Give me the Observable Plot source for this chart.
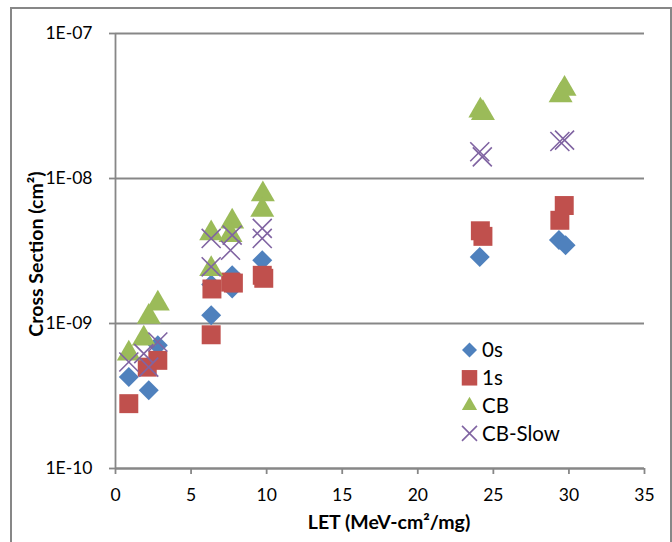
<!DOCTYPE html>
<html>
<head>
<meta charset="utf-8">
<script src="https://cdn.jsdelivr.net/npm/d3@7"></script>
<script src="https://cdn.jsdelivr.net/npm/@observablehq/plot@0.6"></script>
<style>
  html, body { margin: 0; padding: 0; background: #fff; }
  #wrap { position: relative; width: 672px; height: 542px; overflow: hidden; font-family: Lato, "Open Sans", sans-serif; }
  #frame { position: absolute; left: 10px; top: 7px; width: 662px; height: 600px; border: 2px solid #878787; box-sizing: border-box; pointer-events: none; }
  #chart { position: absolute; left: 0; top: 0; }
  .ttl { position: absolute; font-weight: bold; font-size: 19.5px; color: #000; white-space: nowrap; }
  #ytitle { left: 35px; top: 254px; transform: translate(-50%, -50%) rotate(-90deg); }
  #xtitle { left: 389px; top: 521px; transform: translate(-50%, -50%); }
  #legend { position: absolute; left: 455px; top: 334px; }
</style>
</head>
<body>
<div id="wrap">
  <div id="chart"></div>
  <div id="frame"></div>
  <div class="ttl" id="ytitle">Cross Section (cm²)</div>
  <div class="ttl" id="xtitle">LET (MeV-cm²/mg)</div>
  <div id="legend"></div>
</div>
<script>
// ---- data ----
const seriesNames = ["0s", "1s", "CB", "CB-Slow"];
const seriesColors = ["#4F81BD", "#C0504D", "#9BBB59", "#8064A2"];

const let0s = [0.88, 2.2, 2.8, 6.33, 6.33, 7.72, 7.72, 9.71, 24.1, 29.34, 29.78];
const cs0s  = [4.27e-10, 3.46e-10, 7.08e-10, 1.14e-9, 1.86e-9, 2.15e-9, 1.74e-9, 2.73e-9, 2.88e-9, 3.76e-9, 3.47e-9];

const let1s = [0.88, 2.1, 2.8, 6.38, 6.33, 7.62, 7.8, 9.71, 9.81, 24.14, 24.31, 29.4, 29.69];
const cs1s  = [2.8e-10, 5.0e-10, 5.57e-10, 1.73e-9, 8.36e-10, 1.93e-9, 1.9e-9, 2.15e-9, 2.05e-9, 4.36e-9, 3.99e-9, 5.15e-9, 6.51e-9];

const letCB = [0.88, 1.87, 2.2, 2.8, 6.33, 6.33, 7.72, 7.61, 9.75, 9.71, 24.14, 24.31, 29.45, 29.71];
const csCB  = [6.2e-10, 7.87e-10, 1.11e-9, 1.37e-9, 4.18e-9, 2.37e-9, 5.04e-9, 4.07e-9, 7.79e-9, 6.07e-9, 2.94e-8, 2.83e-8, 3.74e-8, 4.16e-8];

const letCBSlow = [0.88, 1.87, 2.2, 2.8, 6.33, 6.33, 7.72, 7.61, 9.71, 9.71, 24.1, 24.27, 29.4, 29.71];
const csCBSlow  = [5.43e-10, 6.2e-10, 5.0e-10, 7.46e-10, 3.86e-9, 2.46e-9, 4.07e-9, 3.2e-9, 4.53e-9, 3.86e-9, 1.53e-8, 1.41e-8, 1.8e-8, 1.84e-8];

const xTicks = [0, 5, 10, 15, 20, 25, 30, 35];
const yTicks = [1e-10, 1e-9, 1e-8, 1e-7];
const yTickLabels = ["1E-10", "1E-09", "1E-08", "1E-07"];

// ---- build ----
const rows = (xs, ys) => xs.map((x, i) => ({x, y: ys[i]}));
const gray = "#878787";

const plot = Plot.plot({
  width: 672,
  height: 542,
  marginLeft: 115,
  marginRight: 28,
  marginTop: 33,
  marginBottom: 74,
  style: {fontFamily: "Lato, 'Open Sans', sans-serif", fontSize: "17.5px", background: "transparent", color: "#000"},
  x: {domain: [0, 35]},
  y: {type: "log", domain: [1e-10, 1e-7]},
  marks: [
    Plot.gridY(yTicks, {stroke: gray, strokeOpacity: 1, strokeWidth: 1.8}),
    Plot.ruleX([0], {stroke: gray, strokeWidth: 1.8}),
    Plot.ruleY([1e-10], {stroke: gray, strokeWidth: 1.8}),
    Plot.axisY({ticks: yTicks, tickFormat: (d) => yTickLabels[yTicks.indexOf(d)], tickSize: 6, tickPadding: 17, stroke: gray, strokeWidth: 1.8, label: null, fontSize: 17.5}),
    Plot.axisX({ticks: xTicks, tickSize: 6, tickPadding: 14, stroke: gray, strokeWidth: 1.8, label: null, fontSize: 17.5}),
    Plot.dot(rows(let0s, cs0s), {x: "x", y: "y", symbol: "diamond2", r: 9, fill: seriesColors[0]}),
    Plot.dot(rows(let1s, cs1s), {x: "x", y: "y", symbol: "square", r: 10.7, fill: seriesColors[1]}),
    Plot.dot(rows(letCB, csCB), {x: "x", y: "y", symbol: "triangle", r: 8.9, fill: seriesColors[2]}),
    Plot.dot(rows(letCBSlow, csCBSlow), {x: "x", y: "y", symbol: "times", r: 8.7, stroke: seriesColors[3], strokeWidth: 1.6})
  ]
});
document.getElementById("chart").appendChild(plot);

// ---- legend ----
const symTypes = [d3.symbolDiamond2, d3.symbolSquare, d3.symbolTriangle, d3.symbolTimes];
const symSizes = [143, 240, 100, 148];
const lg = d3.select("#legend").append("svg").attr("width", 210).attr("height", 120)
  .style("font-family", "Lato, 'Open Sans', sans-serif");
seriesNames.forEach((name, i) => {
  const g = lg.append("g").attr("transform", `translate(14.5, ${16 + i * 27.8})`);
  const p = g.append("path").attr("d", d3.symbol().type(symTypes[i]).size(symSizes[i])());
  if (i === 3) p.attr("fill", "none").attr("stroke", seriesColors[i]).attr("stroke-width", 1.6);
  else p.attr("fill", seriesColors[i]);
  g.append("text").attr("x", 12.5).attr("dy", "0.36em").attr("font-size", 20.5).attr("fill", "#000").text(name);
});
</script>
</body>
</html>
